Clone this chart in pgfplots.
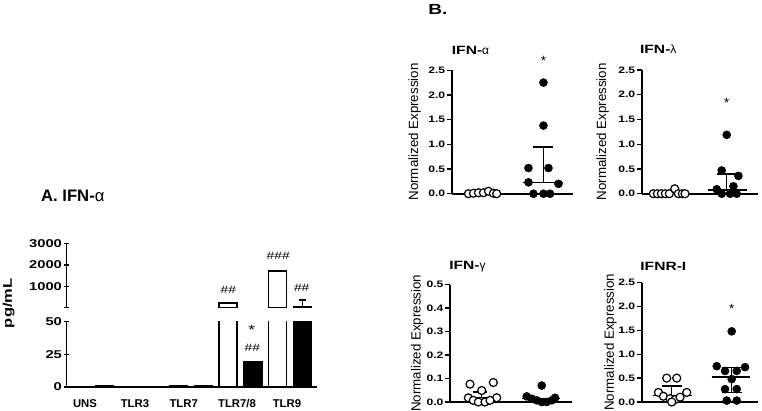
\documentclass[border=0pt]{standalone}
\usepackage{fontspec}
\setmainfont{Liberation Sans}
\newfontfamily\wide{Liberation Sans}[FakeStretch=1.3]
\newfontfamily\wider{Liberation Sans}[FakeStretch=1.45]
\usepackage{pgfplots}
\usepackage{pgfplotstable}
\pgfplotsset{compat=1.18}

\pgfplotstableread{
x y
12.8 0.4
62.3 0.3
111.8 0.6
161.3 250
210.8 1720
}\whiteA
\pgfplotstableread{
x y e
37.6 0.8 0
87.1 0.5 0
136.6 0.7 0
186.1 19 0
235.6 60 330
}\blackA

\pgfplotsset{
 gp/.style={
  scale only axis,
  axis x line=bottom, axis y line=left,
  axis line style={-, line width=1.2pt},
  tick align=outside,
  major tick length=3.75pt,
  tick style={black, line width=1.1pt},
  xtick=\empty,
  enlargelimits=false,
  clip=false,
  axis on top,
  /pgf/number format/assume math mode=true,
  yticklabel style={font=\wide\bfseries\fontsize{7}{8}\selectfont, inner sep=1pt,
     /pgf/number format/.cd, fixed, fixed zerofill, precision=1},
  ylabel style={font=\wider\fontsize{6}{7}\selectfont},
  ylabel={Normalized Expression},
 },
 openpt/.style={only marks, mark=*, mark size=3pt, mark options={draw=black, fill=white, line width=0.9pt}},
 fullpt/.style={only marks, mark=*, mark size=3pt, mark options={draw=black, fill=black}},
 bl/.style={black, line width=1.1pt, no marks},
 barA/.style={
  scale only axis,
  xmin=0, xmax=250,
  enlargelimits=false,
  tick align=outside,
  major tick length=3.75pt,
  tick style={black, line width=1.1pt},
  /pgf/number format/assume math mode=true,
  /pgf/number format/1000 sep={},
  yticklabel style={font=\wide\bfseries\fontsize{8.5}{9}\selectfont, inner sep=1.5pt},
 },
}

\begin{document}
\begin{tikzpicture}
\useasboundingbox (0,0) rectangle (571.5pt,307.5pt);

% ---------------- Panel A ----------------
\begin{axis}[barA, at={(50pt,17.25pt)}, anchor=south west,
  width=187.5pt, height=49pt,
  ymin=0, ymax=50, ytick={0,25,50},
  axis x line=bottom, axis y line=left,
  axis line style={-, line width=1.2pt},
  clip=true,
  xtick={18.3,68.3,117,170.3,220.3},
  xticklabels={UNS,TLR3,TLR7,TLR7/8,TLR9},
  x tick style={draw=none},
  xticklabel style={font=\bfseries\fontsize{8.5}{9}\selectfont, yshift=-4pt},
]
\addplot[ybar, bar width=13.5pt, bar shift=0pt, fill=white, draw=black, line width=1.1pt] table[x=x,y=y] {\whiteA};
\addplot[ybar, bar width=13.5pt, bar shift=0pt, fill=black, draw=black, line width=1.1pt] table[x=x,y=y] {\blackA};
\end{axis}

\begin{axis}[barA, at={(50pt,76.7pt)}, anchor=south west,
  width=187.5pt, height=48.3pt,
  ymin=30, ymax=3000, ytick={1000,2000,3000},
  extra y ticks={30}, extra y tick labels={},
  axis x line=none, axis y line=left,
  axis line style={-, line width=1.2pt},
  xtick=\empty,
  clip=true,
  restrict y to domain=30:100000,
]
\addplot[ybar, bar width=13.5pt, bar shift=0pt, fill=white, draw=black, line width=1.1pt] table[x=x,y=y] {\whiteA};
\addplot[ybar, bar width=13.5pt, bar shift=0pt, fill=black, draw=black, line width=1.1pt,
  error bars/.cd, y dir=plus, y explicit,
  error bar style={line width=1.1pt, black},
  error mark options={rotate=90, mark size=2.6pt, line width=1.1pt, black}]
  table[x=x,y=y,y error=e] {\blackA};
\end{axis}

\node[font=\bfseries\fontsize{12.5}{14}\selectfont] at (54.6pt,160.3pt) {A. IFN-\textnormal{α}};
\node[font=\wide\bfseries\fontsize{9.5}{10}\selectfont, rotate=90] at (6.5pt,80pt) {pg/mL};
\node[font=\wide\fontsize{8}{9}\selectfont] at (171.2pt,90pt) {\#\#};
\node[font=\wide\fontsize{8}{9}\selectfont] at (208.7pt,115.5pt) {\#\#\#};
\node[font=\wide\fontsize{8}{9}\selectfont] at (226.3pt,91.3pt) {\#\#};
\node[font=\wide\fontsize{10}{11}\selectfont] at (188.8pt,60pt) {*};
\node[font=\wide\fontsize{8}{9}\selectfont] at (189.2pt,46.3pt) {\#\#};

% ---------------- Panel B ----------------
\node[font=\wide\bfseries\fontsize{11}{12}\selectfont] at (328.5pt,300.5pt) {B.};

% IFN-alpha
\begin{axis}[gp, at={(338.8pt,162.2pt)}, anchor=south west, width=91pt, height=92.6pt,
  xmin=0, xmax=121.3, ymin=0, ymax=2.5, ytick={0,0.5,1,1.5,2,2.5},
  every axis y label/.style={at={(axis description cs:-0.305,0.5)}, rotate=90, anchor=center}]
\addplot[openpt] coordinates {(16.7,0) (21.7,0.01) (26.7,0.02) (31.7,0.02) (36.7,0.05) (41.7,0.01) (45,0)};
\addplot[bl] coordinates {(11.7,0.01) (43,0.01)};
\addplot[fullpt] coordinates {(91.7,2.25) (91.7,1.38) (76.7,0.52) (96.7,0.52) (76.7,0.23) (106.7,0.2) (81.7,0) (91.7,0) (98.3,0)};
\addplot[bl] coordinates {(71,0.23) (111,0.23)};
\addplot[bl] coordinates {(91.7,0.23) (91.7,0.95)};
\addplot[bl] coordinates {(81,0.95) (101,0.95)};
\end{axis}
\node[font=\wide\bfseries\fontsize{9}{10}\selectfont] at (352.9pt,269.6pt) {IFN-\textnormal{α}};
\node[font=\fontsize{10}{11}\selectfont] at (407.5pt,262pt) {*};

% IFN-lambda
\begin{axis}[gp, at={(481.3pt,162.2pt)}, anchor=south west, width=87.2pt, height=92.8pt,
  xmin=0, xmax=116.3, ymin=0, ymax=2.5, ytick={0,0.5,1,1.5,2,2.5},
  every axis y label/.style={at={(axis description cs:-0.335,0.5)}, rotate=90, anchor=center}]
\addplot[openpt] coordinates {(11.6,0) (15.6,0) (19.6,0) (23.6,0) (27.6,0) (33,0.1) (36.6,0) (40.6,0) (43.3,0)};
\addplot[bl] coordinates {(8.3,0) (45,0)};
\addplot[fullpt] coordinates {(85,1.19) (80,0.47) (96.7,0.36) (91.7,0.15) (75,0.09) (80,0) (88.3,0) (95,0)};
\addplot[bl] coordinates {(66,0.08) (105,0.08)};
\addplot[bl] coordinates {(85,0.08) (85,0.4)};
\addplot[bl] coordinates {(75,0.4) (95,0.4)};
\end{axis}
\node[font=\wide\bfseries\fontsize{9}{10}\selectfont] at (493.7pt,270.75pt) {IFN-\textnormal{λ}};
\node[font=\fontsize{10}{11}\selectfont] at (545pt,230pt) {*};

% IFN-gamma
\begin{axis}[gp, at={(337.5pt,6pt)}, anchor=south west, width=91.3pt, height=88pt,
  xmin=0, xmax=121.7, ymin=0, ymax=0.5, ytick={0,0.1,0.2,0.3,0.4,0.5},
  every axis y label/.style={at={(axis description cs:-0.27,0.5)}, rotate=90, anchor=center}]
\addplot[openpt] coordinates {(20,0.076) (43.3,0.083) (31.7,0.049) (18.3,0.018) (46.7,0.018) (23.3,0.007) (28.3,0) (35,0) (40,0.007)};
\addplot[bl] coordinates {(15,0.02) (48.3,0.02)};
\addplot[bl] coordinates {(31.7,0.02) (31.7,0.043)};
\addplot[bl] coordinates {(23.3,0.043) (36.7,0.043)};
\addplot[fullpt] coordinates {(91.7,0.07) (76.7,0.024) (81.7,0.014) (86.7,0.007) (91.7,0) (96.7,0) (101.7,0.007) (105,0.018)};
\addplot[bl] coordinates {(71.7,0.015) (110,0.015)};
\end{axis}
\node[font=\wide\bfseries\fontsize{9}{10}\selectfont] at (350.6pt,107.6pt) {IFN-\textnormal{γ}};

% IFNR-I
\begin{axis}[gp, at={(481.3pt,6pt)}, anchor=south west, width=87.2pt, height=89.5pt,
  xmin=0, xmax=116.3, ymin=0, ymax=2.5, ytick={0,0.5,1,1.5,2,2.5},
  every axis y label/.style={at={(axis description cs:-0.27,0.5)}, rotate=90, anchor=center}]
\addplot[openpt] coordinates {(25,0.5) (35,0.5) (16.7,0.2) (45,0.2) (21.7,0.12) (28.3,0.07) (33.3,0.05) (38.3,0.1) (30,0)};
\addplot[bl] coordinates {(11.7,0.136) (50,0.136)};
\addplot[bl] coordinates {(30,0.136) (30,0.34)};
\addplot[bl] coordinates {(20,0.34) (40,0.34)};
\addplot[fullpt] coordinates {(90,1.48) (75,0.75) (103.3,0.73) (83.3,0.65) (95,0.65) (90,0.48) (83.3,0.27) (95,0.27) (85,0.03) (95,0.03)};
\addplot[bl] coordinates {(70,0.52) (108.3,0.52)};
\addplot[bl] coordinates {(90,0.2) (90,0.72)};
\addplot[bl] coordinates {(80,0.72) (100,0.72)};
\addplot[bl] coordinates {(80,0.2) (100,0.2)};
\end{axis}
\node[font=\wide\bfseries\fontsize{9}{10}\selectfont] at (497.5pt,107.6pt) {IFNR-I};
\node[font=\fontsize{10}{11}\selectfont] at (548.8pt,76pt) {*};
\end{tikzpicture}
\end{document}
